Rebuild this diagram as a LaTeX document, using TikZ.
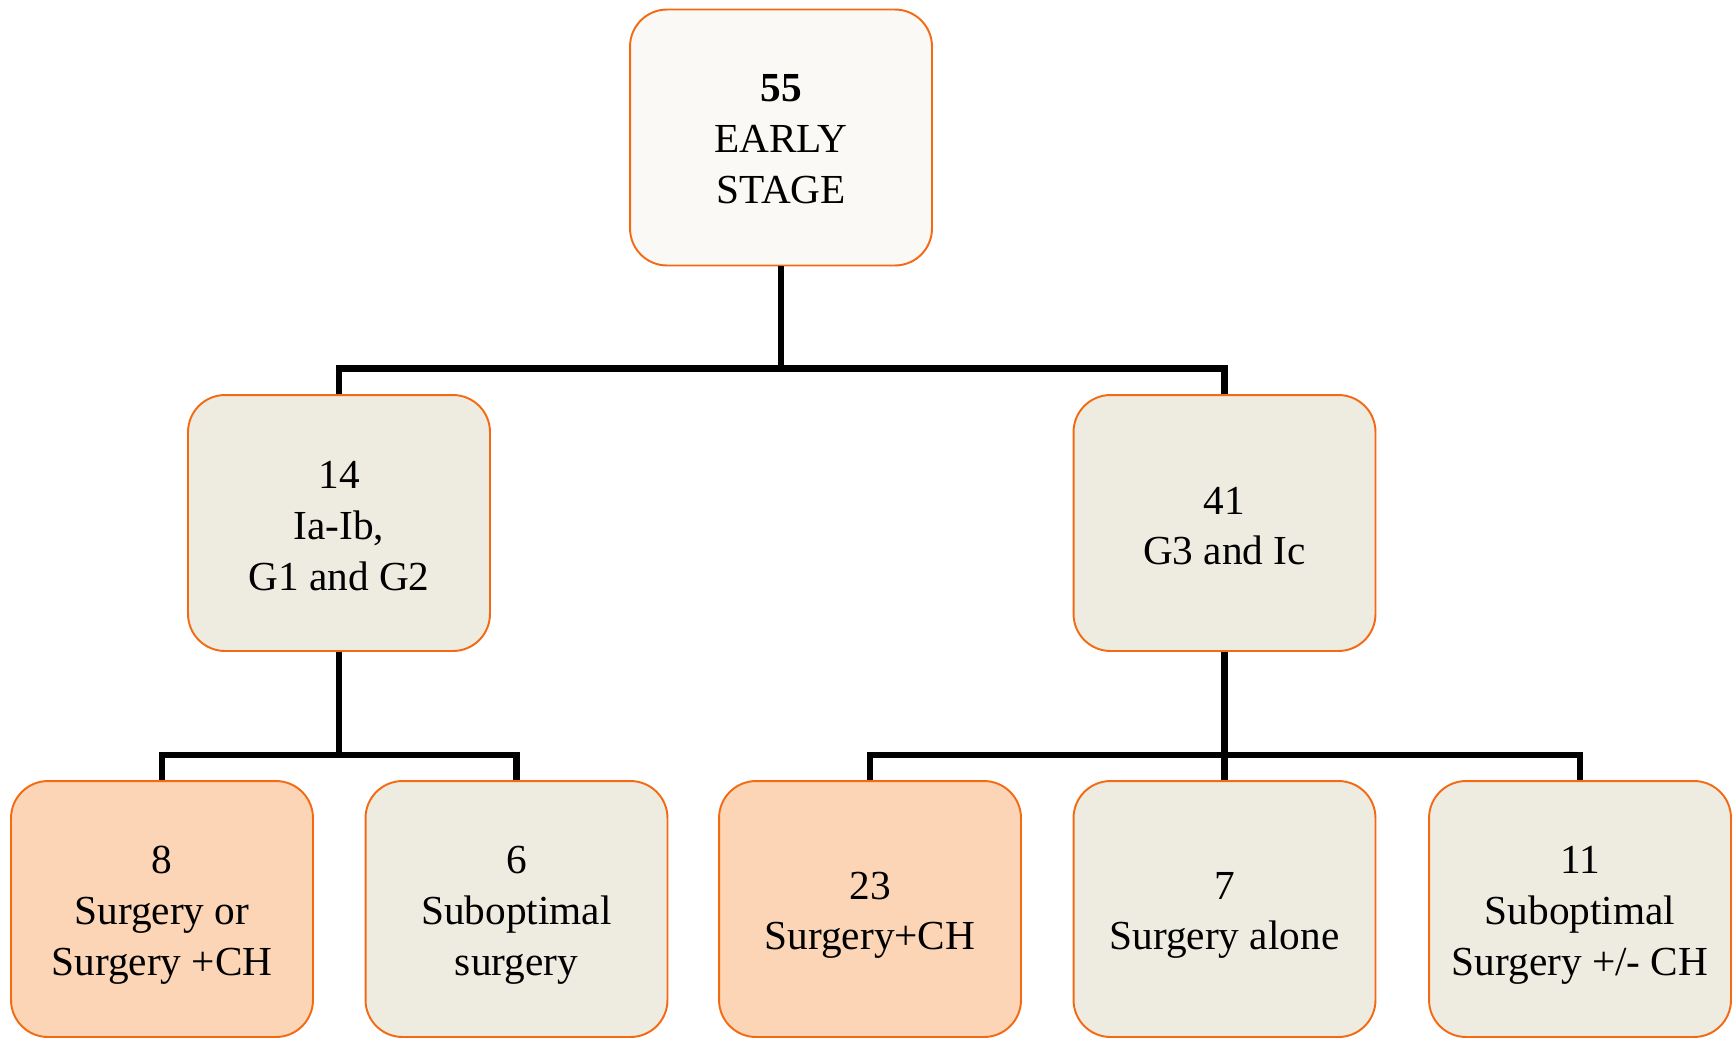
\documentclass[tikz,border=0pt]{standalone}
\usepackage{fontspec}
\setmainfont{Liberation Serif}
\usepackage{tikz}
\usetikzlibrary{calc}

\definecolor{boxline}{HTML}{F46A13}
\definecolor{rootfill}{HTML}{FAF9F6}
\definecolor{greyfill}{HTML}{EEEBE0}
\definecolor{orangefill}{HTML}{FBD5B5}

% strut that pushes the text a little down in its box
\newcommand{\lowstrut}[1]{\rule{0pt}{#1}}

\begin{document}
\begin{tikzpicture}[x=0.02cm, y=-0.02cm,
    box/.style={draw=boxline, line width=1.1pt, rounded corners=0.74cm,
      minimum width=6.04cm, minimum height=5.12cm, inner sep=0pt,
      align=center, font=\fontsize{23.5}{29}\selectfont},
    link/.style={draw=black, line width=3.6pt}]
  \useasboundingbox (0,0) rectangle (1736,1038);

  \node[box,fill=rootfill] (root) at (781,137.5) {\lowstrut{17.5pt}\textbf{55}\\EARLY\\STAGE};
  \node[box,fill=greyfill] (n14) at (339,523) {\lowstrut{19pt}14\\Ia-Ib,\\G1 and G2};
  \node[box,fill=greyfill] (n41) at (1224.5,523) {\lowstrut{19pt}41\\G3 and Ic};
  \node[box,fill=orangefill] (n8) at (162,909) {\lowstrut{22.7pt}8\\Surgery or\\Surgery +CH};
  \node[box,fill=greyfill] (n6) at (516.5,909) {\lowstrut{22.7pt}6\\Suboptimal\\surgery};
  \node[box,fill=orangefill] (n23) at (870,909) {\lowstrut{22.7pt}23\\Surgery+CH};
  \node[box,fill=greyfill] (n7) at (1224.5,909) {\lowstrut{22.7pt}7\\Surgery alone};
  \node[box,fill=greyfill] (n11) at (1580,909) {\lowstrut{22.7pt}11\\Suboptimal\\Surgery +/- CH};

  \path[link]
    (root.south) -- ++(0,102) -| (n14.north)
    (root.south) -- ++(0,102) -| (n41.north)
    (n14.south) -- ++(0,103) -| (n8.north)
    (n14.south) -- ++(0,103) -| (n6.north)
    (n41.south) -- ++(0,103) -| (n23.north)
    (n41.south) -- (n7.north)
    (n41.south) -- ++(0,103) -| (n11.north);
\end{tikzpicture}
\end{document}
